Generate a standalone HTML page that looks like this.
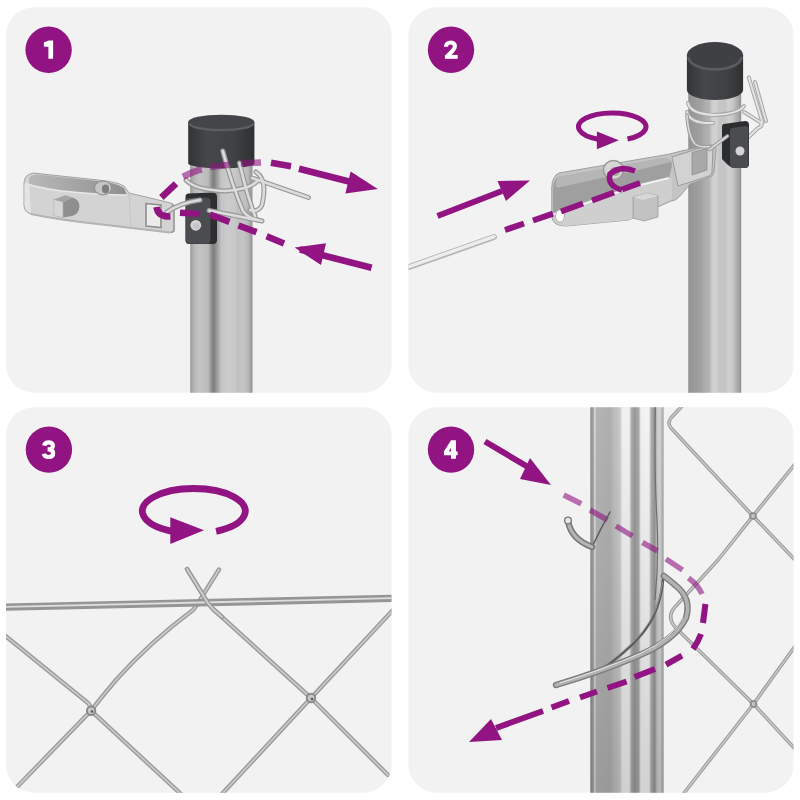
<!DOCTYPE html>
<html><head><meta charset="utf-8"><title>Steps</title><style>
html,body{margin:0;padding:0;background:#fff;width:800px;height:800px;overflow:hidden}
svg{display:block}
</style></head><body>
<svg width="800" height="800" viewBox="0 0 800 800">
<defs>
 <clipPath id="c1"><rect x="6" y="7.3" width="385.5" height="385.4" rx="28"/></clipPath>
 <clipPath id="c2"><rect x="408.5" y="7.3" width="385" height="385.4" rx="28"/></clipPath>
 <clipPath id="c3"><rect x="6" y="407.3" width="385.5" height="385.4" rx="28"/></clipPath>
 <clipPath id="c4"><rect x="408.5" y="407.3" width="385" height="385.4" rx="28"/></clipPath>
 <linearGradient id="gp1" x1="0" x2="1" y1="0" y2="0">
  <stop offset="0" stop-color="#959595"/>
  <stop offset="0.03" stop-color="#a8a8a8"/>
  <stop offset="0.07" stop-color="#b8b8b8"/>
  <stop offset="0.15" stop-color="#c4c4c4"/>
  <stop offset="0.29" stop-color="#bababa"/>
  <stop offset="0.33" stop-color="#9a9a9a"/>
  <stop offset="0.37" stop-color="#7e7e7e"/>
  <stop offset="0.41" stop-color="#8e8e8e"/>
  <stop offset="0.45" stop-color="#a8a8a8"/>
  <stop offset="0.5" stop-color="#c4c4c4"/>
  <stop offset="0.6" stop-color="#cbcbcb"/>
  <stop offset="0.72" stop-color="#c8c8c8"/>
  <stop offset="0.76" stop-color="#c0c0c0"/>
  <stop offset="0.85" stop-color="#c4c4c4"/>
  <stop offset="0.93" stop-color="#b8b8b8"/>
  <stop offset="0.97" stop-color="#a0a0a0"/>
  <stop offset="1" stop-color="#939393"/>
 </linearGradient>
 <linearGradient id="gp2" x1="0" x2="1" y1="0" y2="0">
  <stop offset="0" stop-color="#888888"/>
  <stop offset="0.03" stop-color="#959595"/>
  <stop offset="0.25" stop-color="#a2a2a2"/>
  <stop offset="0.3" stop-color="#ababab"/>
  <stop offset="0.4" stop-color="#b4b4b4"/>
  <stop offset="0.45" stop-color="#cecece"/>
  <stop offset="0.53" stop-color="#d2d2d2"/>
  <stop offset="0.58" stop-color="#c6c6c6"/>
  <stop offset="0.7" stop-color="#c4c4c4"/>
  <stop offset="0.75" stop-color="#d0d0d0"/>
  <stop offset="0.84" stop-color="#c8c8c8"/>
  <stop offset="0.9" stop-color="#b4b4b4"/>
  <stop offset="0.96" stop-color="#a2a2a2"/>
  <stop offset="1" stop-color="#8c8c8c"/>
 </linearGradient>
 <linearGradient id="gp4" x1="0" x2="1" y1="0" y2="0">
  <stop offset="0" stop-color="#8e8e8e"/>
  <stop offset="0.04" stop-color="#a0a0a0"/>
  <stop offset="0.06" stop-color="#dcdcdc"/>
  <stop offset="0.085" stop-color="#b4b4b4"/>
  <stop offset="0.27" stop-color="#b0b0b0"/>
  <stop offset="0.32" stop-color="#bcbcbc"/>
  <stop offset="0.4" stop-color="#c8c8c8"/>
  <stop offset="0.44" stop-color="#f0f0f0"/>
  <stop offset="0.53" stop-color="#f2f2f2"/>
  <stop offset="0.56" stop-color="#b0b0b0"/>
  <stop offset="0.6" stop-color="#989898"/>
  <stop offset="0.66" stop-color="#a8a8a8"/>
  <stop offset="0.69" stop-color="#f2f2f2"/>
  <stop offset="0.8" stop-color="#f4f4f4"/>
  <stop offset="0.83" stop-color="#b0b0b0"/>
  <stop offset="0.88" stop-color="#959595"/>
  <stop offset="0.91" stop-color="#c8c8c8"/>
  <stop offset="0.95" stop-color="#d6d6d6"/>
  <stop offset="1" stop-color="#a0a0a0"/>
 </linearGradient>
 <linearGradient id="gp4v" x1="0" x2="0" y1="0" y2="1">
  <stop offset="0" stop-color="#000" stop-opacity="0"/>
  <stop offset="0.4" stop-color="#000" stop-opacity="0.05"/>
  <stop offset="1" stop-color="#000" stop-opacity="0.14"/>
 </linearGradient>
 <linearGradient id="gcav1" x1="0" x2="1" y1="0" y2="0">
  <stop offset="0" stop-color="#b8b8b8"/>
  <stop offset="0.5" stop-color="#a4a4a4"/>
  <stop offset="1" stop-color="#8e8e8e"/>
 </linearGradient>
 <linearGradient id="gcap" x1="0" x2="1" y1="0" y2="0">
  <stop offset="0" stop-color="#323436"/>
  <stop offset="0.3" stop-color="#45474a"/>
  <stop offset="0.7" stop-color="#3f4144"/>
  <stop offset="1" stop-color="#2e3032"/>
 </linearGradient>
</defs>

<!-- panels -->
<rect x="6" y="7.3" width="385.5" height="385.4" rx="28" fill="#f2f2f2"/>
<rect x="408.5" y="7.3" width="385" height="385.4" rx="28" fill="#f2f2f2"/>
<rect x="6" y="407.3" width="385.5" height="385.4" rx="28" fill="#f2f2f2"/>
<rect x="408.5" y="407.3" width="385" height="385.4" rx="28" fill="#f2f2f2"/>

<!-- ============ PANEL 1 ============ -->
<g clip-path="url(#c1)">
 <!-- post -->
 <rect x="190.2" y="158" width="62.3" height="240" fill="url(#gp1)"/>
 <!-- cap -->
 <path d="M188.2,122 L188.2,163.5 A33.1,4.8 0 0 0 254.4,163.5 L254.4,122 Z" fill="url(#gcap)"/>
 <ellipse cx="221.3" cy="122" rx="33.1" ry="7.3" fill="#434548"/>
 <path d="M189.5,123.5 A31.8,6.6 0 0 0 253.1,123.5" fill="none" stroke="#5c5e61" stroke-width="2.4"/>
 <!-- tensioner body -->
 <path d="M33,173 L98,180 Q118,182 124,186 L129,193 L171,203 Q174,204 174,207 L174,230 Q174,233 170,232.5 L98,224 Q60,220 31,214 Q24,212 24,205 L24,183 Q24,175 33,173 Z" fill="#d3d3d3" stroke="#a2a2a2" stroke-width="1"/>
 <path d="M29,178 Q31,174.5 38,174.5 L98,181 Q117,183 124,188 L127,195 Q100,195 62,191 Q40,188 29,184.5 Z" fill="url(#gcav1)"/>
 <path d="M29,184.5 Q40,188 62,191 Q100,195 127,195" fill="none" stroke="#e8e8e8" stroke-width="1.4"/>
 <ellipse cx="103" cy="188" rx="8.5" ry="7" fill="#c6c6c6" stroke="#8c8c8c" stroke-width="1"/>
 <ellipse cx="105.5" cy="189" rx="3.6" ry="4.4" fill="#7e7e7e"/>
 <path d="M24.5,184 Q25,182 29,183.5 L31,213.5 Q25,211 24.5,205 Z" fill="#e4e4e4"/>
 <path d="M31,214 Q60,220 98,224 L170,232.5" fill="none" stroke="#b4b4b4" stroke-width="2"/>
 <path d="M63,202 L72.5,197.5 Q80,200 79.4,207 Q79,214 72,216 L63,217.5 Z" fill="#8f8f8f"/>
 <path d="M53.8,199.4 L63,202 L63,217.5 L53.8,215.5 Z" fill="#d6d6d6" stroke="#b0b0b0" stroke-width="0.6"/>
 <path d="M53.8,199.4 L65.6,195.3 L72.5,197.5 L63,202 Z" fill="#a4a4a4"/>
 <path d="M146,203.5 L161,205 L161,227.5 L146,226 Z" fill="#ececec" stroke="#8f8f8f" stroke-width="1.6"/>
 <path d="M172,204 L174,207 L174,231 L171,232.5" fill="none" stroke="#9a9a9a" stroke-width="1.5"/>
 <path d="M129,193 L131,226" stroke="#c4c4c4" stroke-width="1"/>
 <!-- clamp block -->
 <path d="M188.5,193.5 L213,192.5 Q217,193 217,197 L217,240 Q217,244 213,244 L189,244 Q185.5,244 185.5,240 L185.5,197 Q185.5,193.5 188.5,193.5 Z" fill="#2c2e30"/>
 <path d="M188.5,198 L207,197.5 Q210.5,198 210.5,201 L210.5,240.5 Q210.5,243.8 207,243.8 L189,243.8 Q185.6,243.8 185.6,240.5 L185.6,201 Q185.6,198 188.5,198 Z" fill="#4a4c4f"/>
 <circle cx="195.8" cy="225.3" r="5.4" fill="#d6d6d6"/>
 <circle cx="196.3" cy="225.8" r="3.4" fill="#c6c6c6"/>
 <!-- wires -->
 <g fill="none" stroke-linecap="round">
  <g stroke="#989898" stroke-width="5">
   <path d="M167,212 Q180,203 200,200"/>
   <path d="M186,180 Q195,190 225,191 Q252,189 258,180"/>
   <path d="M256,172 Q268,180 262,205 Q258,213 250,210"/>
   <path d="M222.8,151 Q232,185 243,211 Q248,218 258,220"/>
   <path d="M239.5,163 Q247,195 255,216"/>
   <path d="M252,178 L308.5,197.5"/>
   <path d="M209,210.5 L262,221"/>
  </g>
  <g stroke="#dcdcdc" stroke-width="2.6">
   <path d="M167,212 Q180,203 200,200"/>
   <path d="M186,180 Q195,190 225,191 Q252,189 258,180"/>
   <path d="M256,172 Q268,180 262,205 Q258,213 250,210"/>
   <path d="M222.8,151 Q232,185 243,211 Q248,218 258,220"/>
   <path d="M239.5,163 Q247,195 255,216"/>
   <path d="M252,178 L308.5,197.5"/>
   <path d="M209,210.5 L262,221"/>
  </g>
 </g>
 <!-- purple -->
 <g fill="none" stroke="#911482" stroke-width="6.6">
  <path d="M180,212.8 L199.5,213.8"/>
  <path d="M210,214.5 L229.5,221.8"/>
  <path d="M238.5,225.5 L256.5,232.2"/>
  <path d="M266.6,236.2 L284,243.5"/>
  <path d="M300,249.5 L371.6,267.8"/>
  <path d="M170.4,216.5 Q158,217 156.5,207"/>
  <path d="M161.4,197.5 L176,183.6"/>
  <path d="M271,162.8 L291,166.3"/>
  <path d="M299,168.7 L349,181.5"/>
 </g>
 <g fill="none" stroke="#911482" stroke-width="6.6" opacity="0.6">
  <path d="M183,176.7 Q195,171 201.8,169.3"/>
  <path d="M210,167 L229.5,164.8"/>
  <path d="M240.8,163.3 L261,162.5"/>
 </g>
 <path d="M326,243.2 L321,265 L294.6,247.6 Z" fill="#911482"/>
 <path d="M350.6,171.5 L345.4,193.4 L377.8,189 Z" fill="#911482"/>
</g>

<!-- ============ PANEL 2 ============ -->
<g clip-path="url(#c2)">
 <!-- post -->
 <rect x="688.3" y="92" width="52.9" height="306" fill="url(#gp2)"/>
 <!-- cap -->
 <path d="M686.9,55 L686.9,90 A28.1,10 0 0 0 743.1,90 L743.1,55 Z" fill="url(#gcap)"/>
 <ellipse cx="715" cy="55.5" rx="28.1" ry="13.5" fill="#3e4043"/>
 <path d="M688.4,57 A26.6,12.4 0 0 0 741.6,57" fill="none" stroke="#5a5c5f" stroke-width="2.6"/>
 <!-- ring wires under cap -->
 <g fill="none" stroke-linecap="round">
  <g stroke="#a6a6a6" stroke-width="4">
   <path d="M688,103 Q690,114 715,115 Q738,114 744,106"/>
   <path d="M687,112 Q690,124 713,123"/>
   <path d="M744,112 L760,122 Q764,126 758,128 L735,150"/>
   <path d="M748.8,77.5 L762.5,122.5"/>
   <path d="M755,82 L766,121"/>
  </g>
  <g stroke="#e4e4e4" stroke-width="2">
   <path d="M688,103 Q690,114 715,115 Q738,114 744,106"/>
   <path d="M687,112 Q690,124 713,123"/>
   <path d="M744,112 L760,122 Q764,126 758,128 L735,150"/>
   <path d="M748.8,77.5 L762.5,122.5"/>
   <path d="M755,82 L766,121"/>
  </g>
 </g>
 <!-- tensioner -->
 <path d="M559,173 L668,154.4 L683,150.6 L712,145 Q716,145 716,149 L714,172 Q713,177 708,178 L690,184 L680,196 Q676,201 671,201 L628.6,220 L566,226 Q552,226 551.75,216 L551.75,188 Q552,176 559,173 Z" fill="#c4c4c4" stroke="#9e9e9e" stroke-width="1"/>
 <path d="M558,177 L664,158 Q672,158 672,166 L669,178 L634,186.5 L553,214.5 L553,190 Q553,180 558,177 Z" fill="#9f9f9f"/>
 <path d="M558,177 L664,158 Q670,158 671,162 L640,169.5 L561,187 Q554,189 556,182 Z" fill="#b6b6b6"/>
 <path d="M553,214.5 L634,186.5 L669,178 L672,178 L672,198 Q670,201 666,202 L628.6,220 L566,226 Q556,226 553,219 Z" fill="#cfcfcf"/>
 <path d="M553,214.5 L634,186.5 L669,178" fill="none" stroke="#f2f2f2" stroke-width="2"/>
 <path d="M672,157 L710,145 Q713,145 713,148 L712,172 Q712,175 709,176 L678,186 Z" fill="#d2d2d2" stroke="#9a9a9a" stroke-width="1"/>
 <path d="M692,152.5 L707,148.5 L707,170 L692,175 Z" fill="#a8a8a8" stroke="#8e8e8e" stroke-width="0.8"/>
 <ellipse cx="613.5" cy="170" rx="10" ry="9.5" fill="#d6d6d6" stroke="#9a9a9a" stroke-width="1.5"/>
 <ellipse cx="615" cy="171.5" rx="5" ry="4.6" fill="#a4a4a4"/>
 <path d="M633,197 L648,193 L658,196 L658,217 L644,221 L633,218 Z" fill="#c2c2c2" stroke="#9a9a9a" stroke-width="0.8"/>
 <path d="M633,197 L648,193 L658,196 L643,200 Z" fill="#d8d8d8"/>
 <ellipse cx="560" cy="216" rx="4.5" ry="6.2" fill="#fbfbfb" stroke="#a0a0a0" stroke-width="0.8"/>
 <!-- clamp -->
 <path d="M724,124 L745,121 Q749,121 749,125 L749,164 Q749,168 745,168 L735,168 Q731,168 728,165 L722,159 L722,127 Q722,124 724,124 Z" fill="#2b2d2f"/>
 <path d="M732,128 L745.5,126 Q748.5,126 748.5,129 L748.5,164.5 Q748.5,168 745,168 L734,168 Q730,168 730,164.5 L730,131 Q730,128 732,128 Z" fill="#4a4c4f"/>
 <circle cx="740" cy="151" r="4.5" fill="#d4d4d4"/>
 <g fill="none" stroke-linecap="round">
  <path d="M709.5,149.5 L727.5,136" stroke="#9a9a9a" stroke-width="3.6"/>
  <path d="M709.5,149.5 L727.5,136" stroke="#dadada" stroke-width="1.6"/>
  <path d="M687,115 Q688,135 694.5,143.5 Q700,148 709.5,146.5" stroke="#9a9a9a" stroke-width="3.6"/>
  <path d="M687,115 Q688,135 694.5,143.5 Q700,148 709.5,146.5" stroke="#dadada" stroke-width="1.6"/>
 </g>
 <!-- wire -->
 <path d="M405,268.5 L494,237" stroke="#b4b4b4" stroke-width="6" stroke-linecap="round"/>
 <path d="M405,268 L494,236.6" stroke="#ededed" stroke-width="3.4" stroke-linecap="round"/>
 <!-- purple -->
 <g fill="none" stroke="#911482" stroke-width="6">
  <path d="M437.5,216 L502,191"/>
  <path d="M505,230 L524,223.5"/>
  <path d="M533,220.5 L553,213.7"/>
  <path d="M561,211.5 L583,203.5"/>
  <path d="M592,200.5 L614,192.5"/>
  <path d="M622,189.5 L640,183"/>
  <path d="M635,171 Q620,165 610,174 Q607,186 622,190" stroke-width="5.5"/>
  <path d="M627.5,139 A33.8,13.8 0 1 0 598,139.2" stroke-width="5"/>
 </g>
 <path d="M497.5,181 L506,201 L530,180.5 Z" fill="#911482"/>
 <path d="M596.9,131.6 L596.9,149.2 L618.8,140.3 Z" fill="#911482"/>
</g>

<!-- ============ PANEL 3 ============ -->
<g clip-path="url(#c3)">
 <g fill="none" stroke-linecap="round" stroke-linejoin="round">
  <g stroke="#999999" stroke-width="4.4">
   <path d="M4,634.8 L88,703 Q91,706 91,710.7 L182,795"/>
   <path d="M219,569.5 L203,595 Q199,603 193,610 Q150,642 116,680 Q104,694 91,710.7 L16,788"/>
   <path d="M187,569 L203,595 Q207,603 213,609 L311,698 L388,775"/>
   <path d="M393,610 L311,698 L221,795"/>
  </g>
  <g stroke="#c9c9c9" stroke-width="1.8">
   <path d="M4,634.8 L88,703 Q91,706 91,710.7 L182,795"/>
   <path d="M219,569.5 L203,595 Q199,603 193,610 Q150,642 116,680 Q104,694 91,710.7 L16,788"/>
   <path d="M187,569 L203,595 Q207,603 213,609 L311,698 L388,775"/>
   <path d="M393,610 L311,698 L221,795"/>
  </g>
  <path d="M0,607.3 L395,598.3" stroke="#959595" stroke-width="7.4"/>
  <path d="M0,607.1 L395,598.1" stroke="#dedede" stroke-width="1.8"/>
  <path d="M187,569 L203,595 Q207,603 213,609 L222,617" stroke="#999999" stroke-width="4.4"/>
  <path d="M187,569 L203,595 Q207,603 213,609 L222,617" stroke="#d0d0d0" stroke-width="1.8"/>
  <circle cx="91.1" cy="710.7" r="4.2" stroke="#8a8a8a" stroke-width="2" fill="#c8c8c8"/>
  <circle cx="92" cy="711.5" r="1.3" fill="#555" stroke="none"/>
  <circle cx="311" cy="698" r="4.2" stroke="#8a8a8a" stroke-width="2" fill="#c8c8c8"/>
  <circle cx="312" cy="699" r="1.3" fill="#555" stroke="none"/>
 </g>
 <g fill="none" stroke="#911482" stroke-width="6.8">
  <path d="M216.1,531.3 A51.5,22.5 0 1 0 172,531.4"/>
 </g>
 <path d="M170.3,517.2 L170.3,544 L204,530.3 Z" fill="#911482"/>
</g>

<!-- ============ PANEL 4 ============ -->
<g clip-path="url(#c4)">
 <!-- mesh -->
 <g fill="none" stroke-linecap="round" stroke-linejoin="round">
  <g stroke="#9c9c9c" stroke-width="3.6">
   <path d="M682,406 L671,418 Q667,423 671,428 L753,516 L796,561"/>
   <path d="M796,463 L753,516 L718,560 L675,607 Q665,618 678,630 L753.5,704 L796,750"/>
   <path d="M796,645 L753.5,704 L684,793"/>
  </g>
  <g stroke="#c8c8c8" stroke-width="1.5">
   <path d="M682,406 L671,418 Q667,423 671,428 L753,516 L796,561"/>
   <path d="M796,463 L753,516 L718,560 L675,607 Q665,618 678,630 L753.5,704 L796,750"/>
   <path d="M796,645 L753.5,704 L684,793"/>
  </g>
  <circle cx="753" cy="516" r="3" stroke="#8a8a8a" stroke-width="1.6"/>
  <circle cx="753.5" cy="704" r="3" stroke="#8a8a8a" stroke-width="1.6"/>
 </g>
 <!-- post -->
 <rect x="590.3" y="400" width="73.3" height="400" fill="url(#gp4)"/>
 <rect x="590.3" y="400" width="73.3" height="400" fill="url(#gp4v)"/>
 <path d="M655.5,400 Q654,470 657,520 Q659,560 655,600" fill="none" stroke="#6f6f6f" stroke-width="1.2"/>
 <!-- purple light (behind) -->
 <g fill="none" stroke="#911482" stroke-width="5.5" opacity="0.6">
  <path d="M563.75,495 L581.25,503.75"/>
  <path d="M590,510 L607.5,520"/>
  <path d="M616,526 L632.5,536"/>
  <path d="M642.5,542.5 L657.5,551"/>
  <path d="M666,559 L682.5,570"/>
  <path d="M688.5,578 Q698,585 702,594"/>
 </g>
 <!-- hook wires -->
 <g fill="none" stroke-linecap="round">
  <path d="M592,547 Q600,530 610,512" stroke="#5a5a5a" stroke-width="1.5"/>
  <path d="M568,521 Q571,539 592,547" stroke="#767676" stroke-width="6.4"/>
  <path d="M568,521 Q571,539 592,547" stroke="#b4b4b4" stroke-width="3.2"/>
  <path d="M663,580 Q660,612 642,634 Q625,654 600,670" stroke="#5c5c5c" stroke-width="2.6"/>
  <path d="M662.5,582 Q659,612 641.5,633 Q625,652 601,668" stroke="#9a9a9a" stroke-width="0.9"/>
  <path d="M556,685 Q600,672 640,655 Q675,640 686,618 Q692,598 675,585 Q668,579 664,576" stroke="#7c7c7c" stroke-width="6.4"/>
  <path d="M556,685 Q600,672 640,655 Q675,640 686,618 Q692,598 675,585 Q668,579 664,576" stroke="#b2b2b2" stroke-width="3.6"/>
  <path d="M560,683 Q602,670 640,653.5 Q672,639 683,618" stroke="#e6e6e6" stroke-width="1"/>
 </g>
 <circle cx="568" cy="520.5" r="3.4" fill="#e8e8e8" stroke="#7a7a7a" stroke-width="1.4"/>
 <!-- purple front -->
 <g fill="none" stroke="#911482" stroke-width="6">
  <path d="M705.4,604 L703,623"/>
  <path d="M701,634 Q698,642 693,649"/>
  <path d="M682,655.6 L666,664.6"/>
  <path d="M655,669 L634.5,677"/>
  <path d="M626.6,681.5 L607.5,688"/>
  <path d="M597,691.5 L580,697.5"/>
  <path d="M569,701 L551.5,707.5"/>
  <path d="M543,711 L496,728"/>
  <path d="M485,441.5 L528,467"/>
 </g>
 <path d="M530,458 L520,479 L551,485 Z" fill="#911482"/>
 <path d="M491,719 L502,740 L469,742 Z" fill="#911482"/>
</g>

<!-- badges -->
<g fill="#911482">
 <circle cx="48.6" cy="49.8" r="23.2"/>
 <circle cx="451" cy="49.8" r="23.2"/>
 <circle cx="48.9" cy="449.6" r="23.2"/>
 <circle cx="451" cy="449.6" r="23.2"/>
</g>
<g fill="#fff">
 <path d="M43.9,42.5 L48.6,40.5 L53.1,40.5 L53.1,58.8 L48.4,58.8 L48.4,46.7 L43.9,46.7 Z"/>
 <rect x="444.9" y="54.9" width="12.8" height="3.9"/>
 <path fill-rule="evenodd" d="M451,440.2 L455.9,440.2 L455.9,451.6 L457.6,451.6 L457.6,455.2 L455.9,455.2 L455.9,458.8 L451,458.8 L451,455.2 L443.9,455.2 L443.9,451.6 Z M451,448 L448.8,451.6 L451,451.6 Z"/>
</g>
<g fill="none" stroke="#fff" stroke-width="4.2">
 <path d="M446,46.8 C446,44 448,42.5 450.8,42.5 C453.6,42.5 454.9,44.3 454.9,46.3 C454.9,48.2 453.8,49.6 452.2,51.2 L446.6,56.9"/>
 <path d="M44.1,445.6 C44.6,443.3 46.4,442.3 48.6,442.3 C51.2,442.3 52.9,443.7 52.9,445.7 C52.9,448 51,449.4 48.2,449.4 L47.6,449.4 M48.2,449.4 C51.6,449.4 53.1,451.2 53.1,453.6 C53.1,455.7 51.3,457 48.6,457 C46,457 44.3,456 43.8,453.8"/>
</g>
</svg>
</body></html>
